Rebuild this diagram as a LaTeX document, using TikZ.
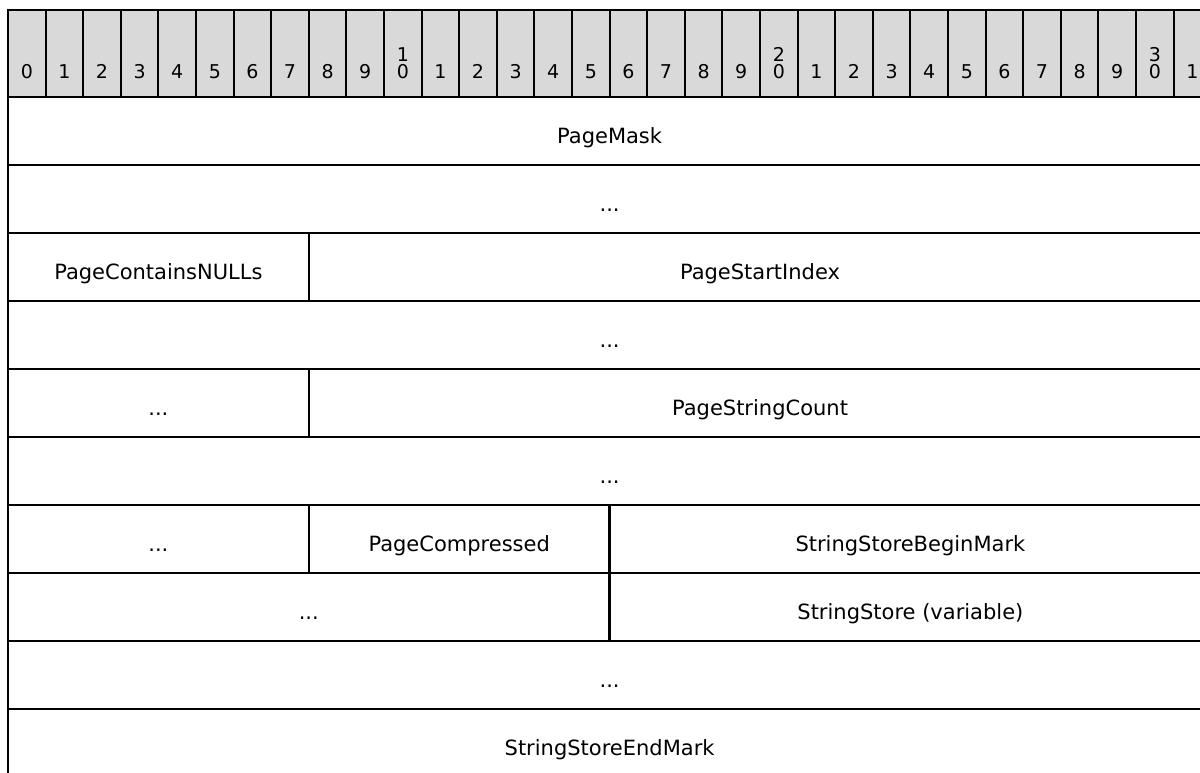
\documentclass[tikz,border=0pt]{standalone}
\usepackage{fontspec}
\setmainfont{DejaVu Sans}
\usepackage{tikz}

\definecolor{hdrgray}{RGB}{217,217,217}
\tikzset{
  bitcell/.style={draw=black, fill=hdrgray, line width=1pt},
  bitnum/.style={anchor=base, inner sep=0pt, font=\fontsize{9.5}{10}\selectfont},
  fieldbox/.style={draw=black, line width=1.3pt},
  fieldtext/.style={anchor=base, inner sep=0pt},
}

\begin{document}
\begin{tikzpicture}[x=0.5pt, y=-0.5pt, font=\fontsize{10.5}{12}\selectfont]
\useasboundingbox (0,0) rectangle (1200,772);
% bit numbers
\foreach \b in {0,...,31}{
  \pgfmathtruncatemacro{\lo}{mod(\b,10)}
  \pgfmathtruncatemacro{\hi}{div(\b,10)}
  \draw [bitcell] (8+37.6*\b,10) rectangle (45.6+37.6*\b,97) (26.8+37.6*\b,78) node [bitnum] (bit\b) {\lo};
  \ifnum\lo=0 \ifnum\b>0
    \node [bitnum] (tens\b) at (26.8+37.6*\b,61) {\hi};
  \fi\fi
}
\draw [line width=1.3pt] (8,10) rectangle (1211.2,97);
% fields
\draw [fieldbox] (8,97) rectangle (1211.2,165) (609.6,143) node [fieldtext] (pagemask) {PageMask};
\draw [fieldbox] (8,165) rectangle (1211.2,233) (609.6,211) node [fieldtext] (more1) {...};
\draw [fieldbox] (8,233) rectangle (308.8,301) (158.4,279) node [fieldtext] (nulls) {PageContainsNULLs};
\draw [fieldbox] (308.8,233) rectangle (1211.2,301) (760,279) node [fieldtext] (startidx) {PageStartIndex};
\draw [fieldbox] (8,301) rectangle (1211.2,369) (609.6,347) node [fieldtext] (more2) {...};
\draw [fieldbox] (8,369) rectangle (308.8,437) (158.4,415) node [fieldtext] (more3) {...};
\draw [fieldbox] (308.8,369) rectangle (1211.2,437) (760,415) node [fieldtext] (strcount) {PageStringCount};
\draw [fieldbox] (8,437) rectangle (1211.2,505) (609.6,483) node [fieldtext] (more4) {...};
\draw [fieldbox] (8,505) rectangle (308.8,573) (158.4,551) node [fieldtext] (more5) {...};
\draw [fieldbox] (308.8,505) rectangle (609.6,573) (459.2,551) node [fieldtext] (compressed) {PageCompressed};
\draw [fieldbox] (609.6,505) rectangle (1211.2,573) (910.4,551) node [fieldtext] (beginmark) {StringStoreBeginMark};
\draw [fieldbox] (8,573) rectangle (609.6,641) (308.8,619) node [fieldtext] (more6) {...};
\draw [fieldbox] (609.6,573) rectangle (1211.2,641) (910.4,619) node [fieldtext] (store) {StringStore (variable)};
\draw [fieldbox] (8,641) rectangle (1211.2,709) (609.6,687) node [fieldtext] (more7) {...};
\draw [fieldbox] (8,709) rectangle (1211.2,777) (609.6,755) node [fieldtext] (endmark) {StringStoreEndMark};
\end{tikzpicture}
\end{document}
